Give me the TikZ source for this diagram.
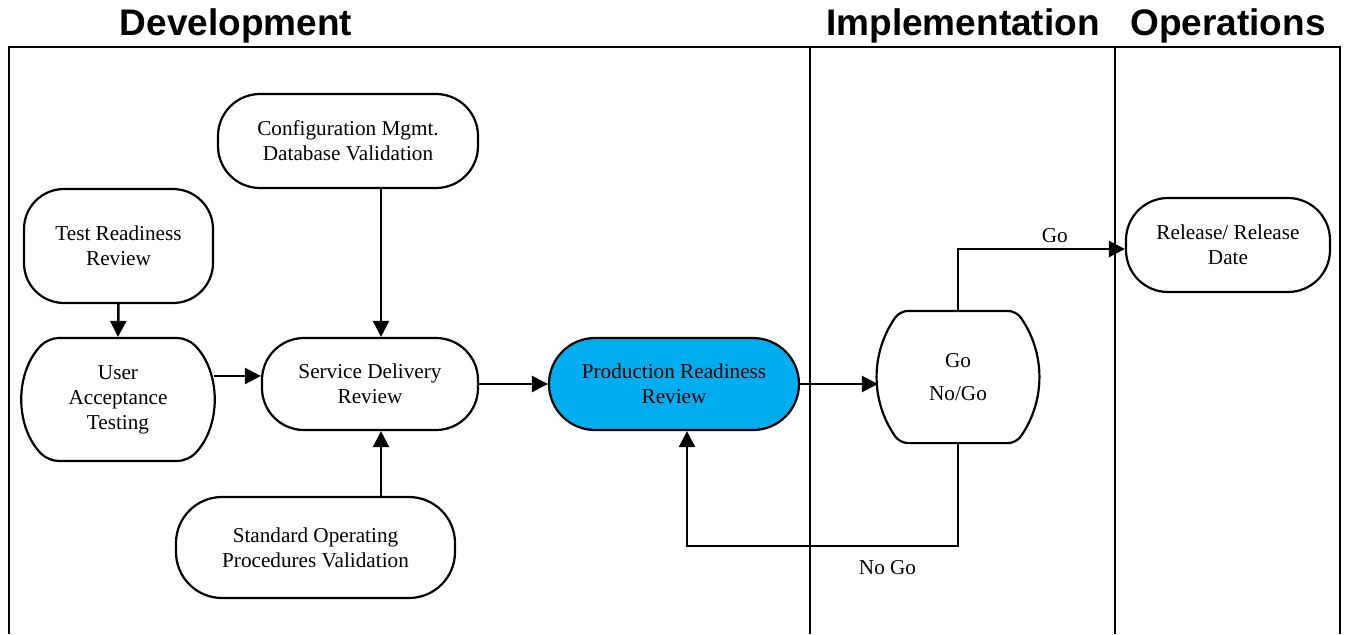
\documentclass[tikz,border=0pt]{standalone}
\usepackage{fontspec}
\setmainfont{Liberation Serif}
\newfontfamily\lanefont{Liberation Sans}
\usetikzlibrary{arrows.meta,shapes.misc}
\definecolor{prrblue}{RGB}{0,174,239}
\tikzset{
  stepbox/.style={draw, line width=1.1pt, align=center, inner sep=0pt,
    font=\fontsize{10.6}{12.5}\selectfont},
  roundbox/.style={stepbox, rectangle, rounded corners=#1},
  arcbox/.style={stepbox, rounded rectangle, rounded rectangle arc length=#1},
  flow/.style={line width=1.25pt, -{Triangle[length=8pt,width=8pt]}},
  lane/.style={font=\lanefont\bfseries\fontsize{18.5}{22}\selectfont},
  tag/.style={font=\fontsize{10.6}{12.5}\selectfont}
}

\begin{document}
\begin{tikzpicture}[x=0.5pt,y=0.5pt,yscale=-1,xscale=1]
\useasboundingbox (0,0) rectangle (1346,634);

%Lanes
\node[lane] (dev) at (236,26) {Development};
\node[lane] (imp) at (963,26) {Implementation};
\node[lane] (ops) at (1228,26) {Operations};
\draw[line width=1.25pt] (9,634) |- (1340,47) -- (1340,634);
\draw[line width=1.25pt] (810,47) -- (810,634);
\draw[line width=1.25pt] (1115,47) -- (1115,634);

%Development
\node[roundbox=21pt, minimum width=130pt, minimum height=47pt] (cfg) at (348,141)
  {Configuration Mgmt.\\Database Validation};
\node[roundbox=20pt, minimum width=94.5pt, minimum height=57pt] (trr) at (118.5,246)
  {Test Readiness\\Review};
\node[arcbox=90, rounded corners=5pt, minimum width=95pt, minimum height=61.5pt] (uat) at (118,399.5)
  {User\\Acceptance\\Testing};
\node[roundbox=21pt, minimum width=108pt, minimum height=46pt] (sdr) at (370,384)
  {Service Delivery\\Review};
\node[roundbox=23pt, minimum width=139.5pt, minimum height=50.5pt] (sop) at (315.5,547.5)
  {Standard Operating\\Procedures Validation};
\node[arcbox=180, fill=prrblue, minimum width=125pt, minimum height=46pt] (prr) at (674,384)
  {Production Readiness\\Review};

%Implementation and Operations
\node[stepbox, draw=none, minimum width=57pt, minimum height=65pt] (gng) at (958,377)
  {Go\\[4pt]No/Go};
\draw[line width=1.1pt, rounded corners=4pt] (gng.north) -- (gng.north east)
  to[bend right=35] (gng.south east) -- (gng.south west)
  to[bend right=35] (gng.north west) -- cycle;
\coordinate (gngin) at ([xshift=-11pt]gng.west);
\node[roundbox=21pt, minimum width=102pt, minimum height=47pt] (rel) at (1228,245)
  {Release/ Release\\Date};

%Connectors
\draw[flow] (trr.south) -- (uat.north);
\draw[flow] ([xshift=16.5pt]cfg.south) -- ([xshift=5.5pt]sdr.north);
\draw[flow] ([xshift=32.75pt]sop.north) -- ([xshift=5.5pt]sdr.south);
\draw[flow] ([yshift=-11.75pt]uat.east) -- ([yshift=-4pt]sdr.west);
\draw[flow] (sdr.east) -- (prr.west);
\draw[flow] (prr.east) -- (prr.east -| gngin);
\draw[flow] (gng.north) |- ([yshift=2pt]rel.west) node[tag, pos=0.79, above=-1pt] {Go};
\draw[flow] (gng.south) -- ++(0,103) -| ([xshift=6.5pt]prr.south)
  node[tag, pos=0.13, below=3pt] {No Go};

\end{tikzpicture}
\end{document}
